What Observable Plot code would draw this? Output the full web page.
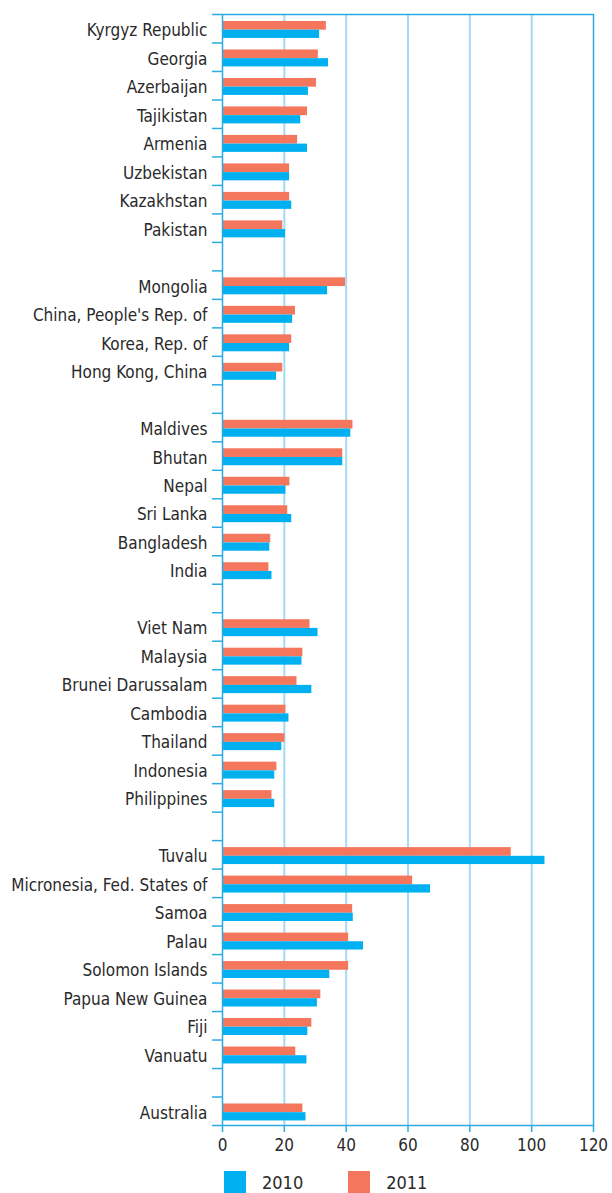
<!DOCTYPE html>
<html><head><meta charset="utf-8">
<script src="https://cdn.jsdelivr.net/npm/d3@7"></script>
<script src="https://cdn.jsdelivr.net/npm/@observablehq/plot@0.6"></script>
<style>
body{margin:0;background:#fff;}
#legend{display:flex;align-items:center;margin-left:224px;padding-top:11px;font-family:"DejaVu Sans Condensed","DejaVu Sans",sans-serif;font-size:18px;color:#2a2a2a;}
.sw{width:22px;height:22px;display:inline-block;margin-right:16px;}
.item{display:flex;align-items:center;margin-right:45px;}
</style>
</head><body>
<div id="chart"></div>
<div id="legend"></div>
<script>
const countries = ["Kyrgyz Republic","Georgia","Azerbaijan","Tajikistan","Armenia","Uzbekistan","Kazakhstan","Pakistan",
  "Mongolia","China, People's Rep. of","Korea, Rep. of","Hong Kong, China",
  "Maldives","Bhutan","Nepal","Sri Lanka","Bangladesh","India",
  "Viet Nam","Malaysia","Brunei Darussalam","Cambodia","Thailand","Indonesia","Philippines",
  "Tuvalu","Micronesia, Fed. States of","Samoa","Palau","Solomon Islands","Papua New Guinea","Fiji","Vanuatu",
  "Australia"];
const values2010 = [31.4,34.3,27.8,25.3,27.5,21.7,22.4,20.4,
  34.0,22.7,21.7,17.5,
  41.5,38.9,20.5,22.4,15.3,16.0,
  30.9,25.7,28.9,21.5,19.2,16.9,16.9,
  104.3,67.3,42.3,45.6,34.7,30.7,27.6,27.3,
  27.0];
const values2011 = [33.6,31.0,30.4,27.5,24.3,21.7,21.7,19.5,
  39.8,23.6,22.4,19.5,
  42.2,38.9,21.8,21.1,15.6,15.0,
  28.3,26.0,24.1,20.5,20.2,17.6,16.0,
  93.4,61.5,42.1,40.8,40.8,31.8,28.9,23.7,
  26.0];
const groupEnds = ["Pakistan","Hong Kong, China","India","Philippines","Vanuatu"];
const xTicks = [0,20,40,60,80,100,120];
const seriesNames = ["2010","2011"];
const colors = ["#00b0f0","#f4765d"];

const rows = [];
countries.forEach((c,i)=>{ rows.push(c); const g = groupEnds.indexOf(c); if (g>=0) rows.push("gap:"+g); });
const data = countries.map((c,i)=>({country:c, v2010:values2010[i], v2011:values2011[i]}));

const W = 612, H = 1160, mt = 14, mb = 35, ml = 222, mr = 19;
const bw = (H - mt - mb) / rows.length;
const axisColor = "#29abe2";
const gridColor = "#a3daf4";
const fontFamily = "'DejaVu Sans Condensed','DejaVu Sans',sans-serif";

const chart = Plot.plot({
  width: W, height: H,
  marginLeft: ml, marginRight: mr, marginTop: mt, marginBottom: mb,
  style: {fontFamily, fontSize: "17px", color: "#2a2a2a", background: "#fff"},
  x: {domain: [0,120], label: null},
  y: {domain: rows, type: "band", padding: 0, round: false, label: null},
  marks: [
    Plot.gridX(xTicks.slice(1,-1), {stroke: gridColor, strokeOpacity: 1, strokeWidth: 2}),
    Plot.barX(data, {x: "v2011", y: "country", fill: colors[1], insetTop: bw*0.245, insetBottom: bw*0.45}),
    Plot.barX(data, {x: "v2010", y: "country", fill: colors[0], insetTop: bw*0.55, insetBottom: bw*0.16}),
    Plot.frame({stroke: axisColor, strokeWidth: 1.5}),
    Plot.axisY({ticks: rows, tickSize: 10, tickFormat: () => "", stroke: axisColor, strokeWidth: 1.5, strokeOpacity: 1, dy: -bw/2, label: null}),
    Plot.axisY({ticks: [rows[rows.length-1]], tickSize: 10, tickFormat: () => "", stroke: axisColor, strokeWidth: 1.5, strokeOpacity: 1, dy: bw/2, label: null}),
    Plot.axisY({ticks: rows, tickSize: 0, tickPadding: 15, fontSize: 17, fill: "#2a2a2a", label: null,
      tickFormat: d => d.startsWith("gap:") ? "" : d, dy: 2}),
    Plot.axisX({ticks: xTicks, tickSize: 7, tickPadding: 6, stroke: axisColor, strokeWidth: 1.5, strokeOpacity: 1, fill: "#2a2a2a", fontSize: 17, label: null})
  ]
});
document.getElementById("chart").appendChild(chart);

const legend = document.getElementById("legend");
seriesNames.forEach((n,i)=>{
  const it = document.createElement("div"); it.className = "item";
  const sw = document.createElement("span"); sw.className = "sw"; sw.style.background = colors[i];
  const tx = document.createElement("span"); tx.textContent = n;
  it.appendChild(sw); it.appendChild(tx); legend.appendChild(it);
});
</script>
</body></html>
